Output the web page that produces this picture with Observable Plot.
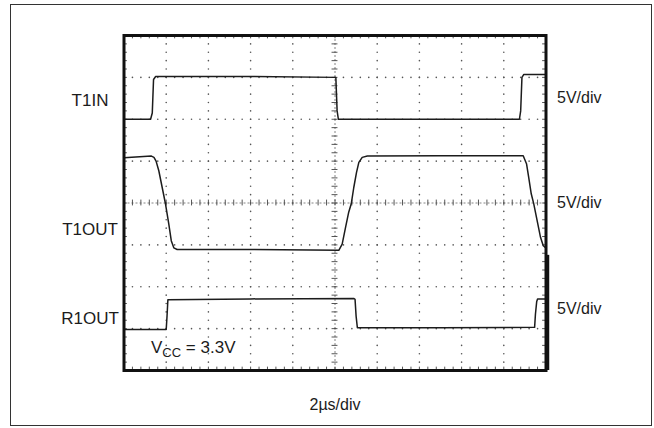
<!DOCTYPE html>
<html><head><meta charset="utf-8">
<script src="https://cdn.jsdelivr.net/npm/d3@7"></script>
<script src="https://cdn.jsdelivr.net/npm/@observablehq/plot@0.6"></script>
<style>
html,body{margin:0;padding:0;background:#fff;}
#wrap{position:relative;width:654px;height:428px;overflow:hidden;}
#chart{position:absolute;left:0;top:0;}
#border{position:absolute;left:10px;top:4px;width:642px;height:422px;border:1.5px solid #333;box-sizing:border-box;pointer-events:none;}
</style></head>
<body><div id="wrap"><div id="chart"></div><div id="border"></div></div>
<script>
// Time axis in microseconds (2 µs/div, 10 divisions); vertical axis in divisions (8 divisions)
const t1inTime = [0, 1.26, 1.34, 1.40, 1.50, 6.0, 10.04, 10.10, 10.16, 14.0, 18.74, 18.80, 18.86, 18.95, 20];
const t1inDiv  = [6.0, 6.0, 6.15, 6.95, 7.02, 7.02, 7.0, 6.2, 6.0, 6.0, 6.0, 6.2, 7.0, 7.07, 7.07];

const t1outTime = [0, 1.30, 1.42, 1.52, 1.65, 1.81, 1.97, 2.12, 2.24, 2.36, 2.52, 6.0, 10.18, 10.34, 10.50, 10.65, 10.77, 10.89, 11.02, 11.13, 11.29, 11.53, 15.0, 18.92, 19.08, 19.18, 19.30, 19.42, 19.58, 19.74, 19.87, 19.98];
const t1outDiv  = [5.08, 5.12, 5.09, 5.00, 4.77, 4.37, 3.97, 3.51, 3.10, 2.93, 2.89, 2.89, 2.87, 3.02, 3.42, 3.78, 3.98, 4.37, 4.73, 4.97, 5.09, 5.12, 5.13, 5.13, 4.93, 4.61, 4.22, 3.98, 3.58, 3.18, 2.98, 2.93];

const r1outTime = [0, 2.0, 2.04, 2.08, 6.0, 10.9, 10.95, 11.0, 11.06, 15.0, 19.46, 19.50, 19.56, 19.6, 20];
const r1outDiv  = [0.98, 0.98, 1.3, 1.69, 1.71, 1.72, 1.70, 1.30, 1.02, 1.02, 1.03, 1.35, 1.65, 1.71, 1.71];

const channelNames = ["T1IN", "T1OUT", "R1OUT"];
const channelLabelLevel = [6.45, 3.37, 1.23];
const scaleLabels = ["5V/div", "5V/div", "5V/div"];
const scaleLabelLevel = [6.52, 4.0, 1.46];
const timebaseLabel = ["2µs/div"];
const supplyLabel = ["VCC = 3.3V"];

// Graticule definition
const xMajor = d3.range(0, 21, 2);
const yMajor = d3.range(0, 9, 1);
const xMinor = d3.range(0, 20.001, 0.4);
const yMinor = d3.range(0, 8.001, 0.2);
const xCenter = 10, yCenter = 4;

const toRows = (ts, vs) => ts.map((t, i) => ({t, v: vs[i]}));
const t1in = toRows(t1inTime, t1inDiv);
const t1out = toRows(t1outTime, t1outDiv);
const r1out = toRows(r1outTime, r1outDiv);

const innerX = xMajor.filter(x => x > 0 && x < 20 && x !== xCenter);
const innerY = yMajor.filter(y => y > 0 && y < 8 && y !== yCenter);
const dotsV = innerX.flatMap(x => yMinor.map(y => ({x, y})));
const dotsH = innerY.flatMap(y => xMinor.map(x => ({x, y})));

const ink = "#1c1c1c";
const gridInk = "#555";
const font = "Liberation Sans, Arial, Helvetica, sans-serif";

const plot = Plot.plot({
  width: 654, height: 428,
  marginLeft: 123.5, marginRight: 108.5, marginTop: 35, marginBottom: 58,
  x: {domain: [0, 20], axis: null},
  y: {domain: [0, 8], axis: null},
  style: {background: "transparent", fontFamily: font, fontSize: "16px", color: ink, overflow: "visible"},
  marks: [
    Plot.dot(dotsV, {x: "x", y: "y", r: 0.8, fill: gridInk, stroke: null}),
    Plot.dot(dotsH, {x: "x", y: "y", r: 0.8, fill: gridInk, stroke: null}),
    Plot.ruleX([xCenter], {stroke: "#666", strokeWidth: 0.8, strokeDasharray: "2,2"}),
    Plot.ruleY([yCenter], {stroke: "#666", strokeWidth: 0.8, strokeDasharray: "2,2"}),
    // center-line minor ticks
    Plot.ruleX(xMinor, {x: d => d, y1: yCenter - 0.07, y2: yCenter + 0.07, stroke: "#444", strokeWidth: 0.9}),
    Plot.ruleY(yMinor, {y: d => d, x1: xCenter - 0.14, x2: xCenter + 0.14, stroke: "#444", strokeWidth: 0.9}),
    // border minor ticks
    Plot.ruleX(xMinor, {x: d => d, y1: 8, y2: 7.92, stroke: "#444", strokeWidth: 0.9}),
    Plot.ruleX(xMinor, {x: d => d, y1: 0, y2: 0.08, stroke: "#444", strokeWidth: 0.9}),
    Plot.ruleY(yMinor, {y: d => d, x1: 0, x2: 0.16, stroke: "#444", strokeWidth: 0.9}),
    Plot.ruleY(yMinor, {y: d => d, x1: 20, x2: 19.84, stroke: "#444", strokeWidth: 0.9}),
    // traces
    Plot.line(t1in, {x: "t", y: "v", stroke: ink, strokeWidth: 1.5}),
    Plot.line(t1out, {x: "t", y: "v", stroke: ink, strokeWidth: 1.5}),
    Plot.line(r1out, {x: "t", y: "v", stroke: ink, strokeWidth: 1.5}),
    Plot.frame({stroke: "#111", strokeWidth: 3}),
    // heavier lower part of the right edge, as in the scan
    Plot.ruleX([20], {y1: 0, y2: 2.75, dx: 1.5, stroke: "#111", strokeWidth: 3.5}),
    // labels
    Plot.text(channelNames, {x: 0, y: (d, i) => channelLabelLevel[i], text: d => d, textAnchor: "middle", dx: -34, fontSize: 17, fill: ink}),
    Plot.text(scaleLabels, {x: 20, y: (d, i) => scaleLabelLevel[i], text: d => d, textAnchor: "start", dx: 11, fontSize: 16, fill: ink}),
    Plot.text(timebaseLabel, {x: xCenter, y: 0, text: d => d, dy: 34, fontSize: 16, fill: ink}),
    Plot.text(supplyLabel, {x: 0, y: 0, text: d => d, textAnchor: "start", dx: 27, dy: -23, fontSize: 17, fill: ink})
  ]
});

// render the subscript in V_CC
d3.select(plot).selectAll("text").each(function() {
  const el = d3.select(this);
  if (el.text() === supplyLabel[0]) {
    el.text(null);
    el.append("tspan").text("V");
    el.append("tspan").attr("font-size", 13).attr("dy", 4).text("CC");
    el.append("tspan").attr("dy", -4).text(" = 3.3V");
  }
});

document.getElementById("chart").appendChild(plot);
</script>
</body></html>
